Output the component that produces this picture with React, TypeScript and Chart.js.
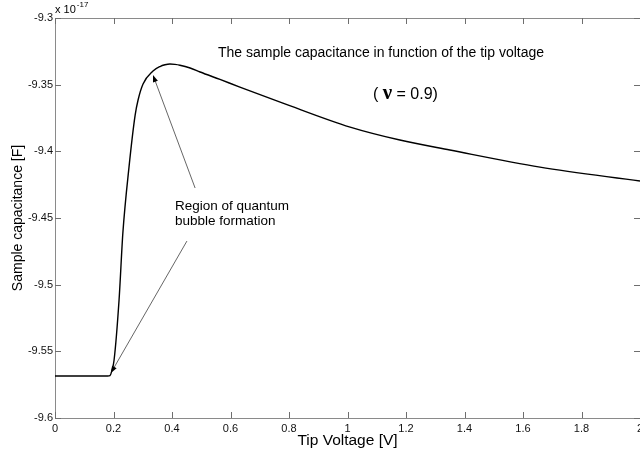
import React, { useEffect, useRef } from 'react';
import { Chart, registerables } from 'chart.js';

Chart.register(...registerables);

// Sample capacitance (units of 1e-17 F) against tip voltage (V)
const tipVoltage = [
  0, 0.1, 0.18, 0.188, 0.195, 0.202, 0.219, 0.232, 0.253, 0.274, 0.284, 0.301,
  0.335, 0.359, 0.376, 0.393, 0.41, 0.427, 0.462, 0.496, 0.564, 0.632, 0.779,
  1.009, 1.179, 1.35, 1.658, 2.0,
];
const capacitance = [
  -9.5685, -9.5685, -9.5685, -9.5682, -9.564, -9.5565, -9.5115, -9.4613, -9.4118,
  -9.3728, -9.3615, -9.3495, -9.3398, -9.3364, -9.3351, -9.3345, -9.3348, -9.3354,
  -9.3375, -9.3405, -9.3461, -9.3518, -9.3638, -9.3818, -9.3915, -9.399, -9.4118,
  -9.4223,
];

const xTicks = [0, 0.2, 0.4, 0.6, 0.8, 1, 1.2, 1.4, 1.6, 1.8, 2];
const xTickLabels = ['0', '0.2', '0.4', '0.6', '0.8', '1', '1.2', '1.4', '1.6', '1.8', '2'];
const yTicks = [-9.6, -9.55, -9.5, -9.45, -9.4, -9.35, -9.3];
const yTickLabels = ['-9.6', '-9.55', '-9.5', '-9.45', '-9.4', '-9.35', '-9.3'];

const xTitle = 'Tip Voltage [V]';
const yTitle = 'Sample capacitance [F]';
const plotTitle = 'The sample capacitance in function of the tip voltage';
const nuValue = '0.9';
const regionNote = ['Region of quantum', 'bubble formation'];
const exponentText = '-17';

// Annotation anchors in data coordinates: [voltage, capacitance]
const titleAnchor = [1.1145, -9.32625];
const nuAnchor = [1.087, -9.35775];
const noteAnchor = [0.41, -9.441];
const upperArrow = { from: [0.479, -9.4275], to: [0.335, -9.3428] };
const lowerArrow = { from: [0.451, -9.4673], to: [0.191, -9.5663] };

const SANS = 'Arial, "Liberation Sans", Helvetica, sans-serif';
const SERIF = '"Times New Roman", "Liberation Serif", "DejaVu Serif", serif';
const AXIS_COLOR = '#8a8a8a';
const TICK_COLOR = '#6e6e6e';

const frameAndNotes = {
  id: 'frameAndNotes',
  afterDraw(chart: any) {
    const { ctx, chartArea: a, scales } = chart;
    const xs = scales.x;
    const ys = scales.y;
    const px = (v: number) => xs.getPixelForValue(v);
    const py = (v: number) => ys.getPixelForValue(v);

    ctx.save();

    // top edge of the box
    ctx.strokeStyle = AXIS_COLOR;
    ctx.lineWidth = 1;
    ctx.beginPath();
    ctx.moveTo(a.left, Math.round(a.top) + 0.5);
    ctx.lineTo(a.right, Math.round(a.top) + 0.5);
    ctx.stroke();

    // inward tick marks on all four sides
    ctx.strokeStyle = TICK_COLOR;
    ctx.beginPath();
    xTicks.forEach((v) => {
      const x = Math.round(px(v)) + 0.5;
      ctx.moveTo(x, a.bottom);
      ctx.lineTo(x, a.bottom - 6);
      ctx.moveTo(x, a.top);
      ctx.lineTo(x, a.top + 6);
    });
    yTicks.forEach((v) => {
      const y = Math.round(py(v)) + 0.5;
      ctx.moveTo(a.left, y);
      ctx.lineTo(a.left + 6, y);
      ctx.moveTo(a.right, y);
      ctx.lineTo(a.right - 6, y);
    });
    ctx.stroke();

    // exponent marker above the y axis
    ctx.fillStyle = '#000';
    ctx.textBaseline = 'middle';
    ctx.textAlign = 'left';
    ctx.font = `11px ${SANS}`;
    const base = 'x 10';
    ctx.fillText(base, a.left, a.top - 8);
    const bw = ctx.measureText(base).width;
    ctx.font = `8px ${SANS}`;
    ctx.fillText(exponentText, a.left + bw + 1, a.top - 13);

    // plot title
    ctx.font = `14px ${SANS}`;
    ctx.textAlign = 'center';
    ctx.fillText(plotTitle, px(titleAnchor[0]), py(titleAnchor[1]));

    // ( ν = 0.9)
    ctx.textAlign = 'left';
    let nx = px(nuAnchor[0]);
    const ny = py(nuAnchor[1]);
    ctx.font = `16px ${SANS}`;
    const open = '( ';
    ctx.fillText(open, nx, ny);
    nx += ctx.measureText(open).width;
    ctx.font = `bold 21px ${SERIF}`;
    ctx.fillText('\u03BD', nx, ny - 1);
    nx += ctx.measureText('\u03BD').width;
    ctx.font = `16px ${SANS}`;
    ctx.fillText(` = ${nuValue})`, nx, ny);

    // note text
    ctx.font = `13.5px ${SANS}`;
    regionNote.forEach((line, i) => {
      ctx.fillText(line, px(noteAnchor[0]), py(noteAnchor[1]) + i * 15.7);
    });

    // arrows from the note to the curve
    const arrow = (from: number[], to: number[]) => {
      const x0 = px(from[0]);
      const y0 = py(from[1]);
      const x1 = px(to[0]);
      const y1 = py(to[1]);
      const ang = Math.atan2(y1 - y0, x1 - x0);
      const len = 7;
      const hw = 2.6;
      ctx.strokeStyle = '#555';
      ctx.lineWidth = 0.9;
      ctx.beginPath();
      ctx.moveTo(x0, y0);
      ctx.lineTo(x1 - Math.cos(ang) * len * 0.8, y1 - Math.sin(ang) * len * 0.8);
      ctx.stroke();
      ctx.fillStyle = '#000';
      ctx.beginPath();
      ctx.moveTo(x1, y1);
      ctx.lineTo(
        x1 - Math.cos(ang) * len - Math.sin(ang) * hw,
        y1 - Math.sin(ang) * len + Math.cos(ang) * hw
      );
      ctx.lineTo(
        x1 - Math.cos(ang) * len + Math.sin(ang) * hw,
        y1 - Math.sin(ang) * len - Math.cos(ang) * hw
      );
      ctx.closePath();
      ctx.fill();
    };
    arrow(upperArrow.from, upperArrow.to);
    arrow(lowerArrow.from, lowerArrow.to);

    ctx.restore();
  },
};

export default function App() {
  const canvasRef = useRef<HTMLCanvasElement>(null);

  useEffect(() => {
    if (!canvasRef.current) return;
    Chart.defaults.font.family = SANS;
    const points = tipVoltage.map((v, i) => ({ x: v, y: capacitance[i] }));

    const chart = new Chart(canvasRef.current, {
      type: 'line',
      data: {
        datasets: [
          {
            data: points,
            borderColor: '#000',
            borderWidth: 1.4,
            pointRadius: 0,
            fill: false,
            cubicInterpolationMode: 'monotone',
          },
        ],
      },
      options: {
        responsive: false,
        animation: false,
        layout: { padding: { top: 18, left: 0, right: 0, bottom: 0 } },
        plugins: { legend: { display: false }, tooltip: { enabled: false } },
        scales: {
          x: {
            type: 'linear',
            min: 0,
            max: 2,
            afterBuildTicks: (s: any) => {
              s.ticks = xTicks.map((v) => ({ value: v }));
            },
            afterFit: (s: any) => {
              s.height = 38;
              s.paddingLeft = 0;
              s.paddingRight = 0;
            },
            grid: { display: false, drawTicks: false },
            border: { color: AXIS_COLOR, width: 1 },
            ticks: {
              autoSkip: false,
              maxRotation: 0,
              padding: 4,
              color: '#111',
              font: { size: 11 },
              callback: (_v: any, i: number) => xTickLabels[i],
            },
            title: {
              display: true,
              text: xTitle,
              color: '#000',
              font: { size: 15.5 },
              padding: { top: 0, bottom: 6 },
            },
          },
          y: {
            type: 'linear',
            min: -9.6,
            max: -9.3,
            afterBuildTicks: (s: any) => {
              s.ticks = yTicks.map((v) => ({ value: v }));
            },
            afterFit: (s: any) => {
              s.width = 55;
              s.paddingTop = 0;
              s.paddingBottom = 0;
            },
            grid: { display: false, drawTicks: false },
            border: { color: AXIS_COLOR, width: 1 },
            ticks: {
              autoSkip: false,
              padding: 2,
              color: '#111',
              font: { size: 11 },
              callback: (_v: any, i: number) => yTickLabels[i],
            },
            title: {
              display: true,
              text: yTitle,
              color: '#000',
              font: { size: 14 },
              padding: { top: 9.6, bottom: 0 },
            },
          },
        },
      },
      plugins: [frameAndNotes],
    } as any);

    return () => chart.destroy();
  }, []);

  return (
    <div style={{ position: 'absolute', left: 0, top: 0, width: 640, height: 456, background: '#fff' }}>
      <canvas ref={canvasRef} width={640} height={456} style={{ display: 'block' }} />
    </div>
  );
}
